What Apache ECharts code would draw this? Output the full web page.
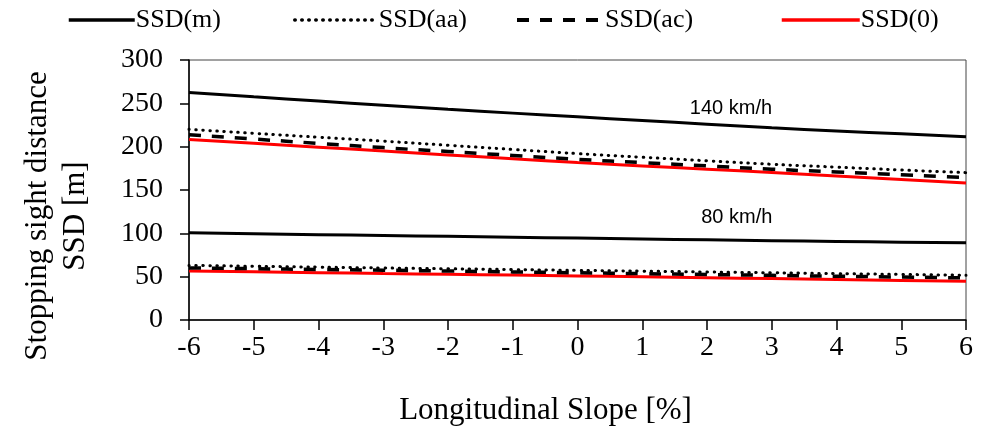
<!DOCTYPE html>
<html>
<head>
<meta charset="utf-8">
<script src="https://cdn.jsdelivr.net/npm/echarts@6/dist/echarts.min.js"></script>
<style>
  html, body { margin: 0; padding: 0; background: #fff; }
  #chart { width: 994px; height: 431px; }
</style>
</head>
<body>
<div id="chart"></div>
<script>
// longitudinal slope [%]
var slopes = [-6, -5, -4, -3, -2, -1, 0, 1, 2, 3, 4, 5, 6];

// 140 km/h
var ssdM140  = [262.6, 257.5, 252.6, 247.7, 243.1, 238.7, 234.4, 230.1, 226.0, 221.8, 218.2, 214.8, 211.5];
var ssdAa140 = [220.0, 215.4, 210.9, 206.4, 201.6, 196.8, 192.0, 187.8, 183.7, 179.7, 176.4, 173.1, 170.0];
var ssdAc140 = [213.8, 208.8, 203.8, 198.9, 194.4, 189.9, 185.4, 181.6, 177.8, 174.0, 170.8, 167.6, 164.4];
var ssd0140  = [208.4, 203.9, 199.4, 195.0, 190.5, 186.0, 181.6, 177.8, 174.0, 170.2, 166.2, 162.1, 158.0];

// 80 km/h
var ssdM80  = [100.6, 99.6, 98.5, 97.5, 96.5, 95.5, 94.5, 93.5, 92.5, 91.5, 90.7, 89.8, 89.0];
var ssdAa80 = [63.0, 62.0, 61.0, 60.0, 59.1, 58.2, 57.3, 56.4, 55.4, 54.5, 53.5, 52.6, 51.6];
var ssdAc80 = [60.0, 59.2, 58.3, 57.5, 56.5, 55.5, 54.5, 53.5, 52.5, 51.5, 50.5, 49.6, 48.6];
var ssd080  = [56.6, 55.6, 54.6, 53.6, 52.7, 51.8, 50.9, 49.9, 48.8, 47.8, 46.8, 45.7, 44.7];

var speedLabels = [
  { text: '140 km/h', x: 2.37, y: 244 },
  { text: '80 km/h', x: 2.46, y: 118 }
];

var serif = 'Liberation Serif';
var sans = 'Liberation Sans';

function pairs(ys) {
  return slopes.map(function (x, i) { return [x, ys[i]]; });
}

var styles = {
  'SSD(m)':  { color: '#000', width: 3, type: 'solid' },
  'SSD(aa)': { color: '#000', width: 3, type: [0.5, 6.5], cap: 'round' },
  'SSD(ac)': { color: '#000', width: 3.5, type: [12, 11] },
  'SSD(0)':  { color: '#ff0000', width: 3, type: 'solid' }
};

function line(name, ys, extra) {
  var st = styles[name];
  var s = {
    name: name,
    type: 'line',
    data: pairs(ys),
    symbol: 'none',
    smooth: true,
    color: st.color,
    lineStyle: { color: st.color, width: st.width, type: st.type, cap: st.cap || 'butt' },
    z: extra && extra.z || 2
  };
  if (extra && extra.markPoint) s.markPoint = extra.markPoint;
  return s;
}

function speedMark(lbl) {
  return {
    symbol: 'circle',
    symbolSize: 0,
    silent: true,
    label: {
      show: true,
      position: 'inside',
      formatter: lbl.text,
      color: '#000',
      fontFamily: sans,
      fontSize: 20
    },
    data: [{ coord: [lbl.x, lbl.y] }]
  };
}

function legendAt(name, left, w) {
  var st = styles[name];
  return {
    data: [name],
    left: left,
    top: 2,
    itemWidth: w,
    itemHeight: 20,
    itemGap: 0,
    itemStyle: { opacity: 0 },
    lineStyle: { width: st.width + 0.5, type: st.type, cap: st.cap || 'butt' },
    textStyle: { fontFamily: serif, fontSize: 26, color: '#000', padding: [0, 0, 0, -4] },
    selectedMode: false
  };
}

var chart = echarts.init(document.getElementById('chart'));

chart.setOption({
  animation: false,
  backgroundColor: '#fff',
  legend: [
    legendAt('SSD(m)', 62, 66),
    legendAt('SSD(aa)', 288, 83),
    legendAt('SSD(ac)', 510, 87),
    legendAt('SSD(0)', 775, 78)
  ],
  grid: {
    left: 189, right: 28, top: 60, bottom: 109,
    show: true, borderColor: '#444', borderWidth: 1
  },
  xAxis: {
    type: 'value',
    min: -6, max: 6, interval: 1,
    name: 'Longitudinal Slope [%]',
    nameLocation: 'middle',
    nameGap: 75,
    nameTextStyle: { fontFamily: serif, fontSize: 31, color: '#000', padding: [0, 64, 0, 0] },
    axisLine: { show: true, onZero: false, lineStyle: { color: '#000', width: 1.5 } },
    axisTick: { show: true, inside: false, length: 10, lineStyle: { color: '#000', width: 1.5 } },
    axisLabel: { fontFamily: serif, fontSize: 28, color: '#000', margin: 14 },
    splitLine: { show: false }
  },
  yAxis: {
    type: 'value',
    min: 0, max: 300, interval: 50,
    name: 'Stopping sight distance\nSSD [m]',
    nameLocation: 'middle',
    nameRotate: 90,
    nameGap: 94,
    nameTextStyle: { fontFamily: serif, fontSize: 31, color: '#000', lineHeight: 38, padding: [0, 52, 0, 0] },
    axisLine: { show: true, onZero: false, lineStyle: { color: '#000', width: 1.5 } },
    axisTick: { show: true, inside: false, length: 9, lineStyle: { color: '#000', width: 1.5 } },
    axisLabel: { fontFamily: serif, fontSize: 28, color: '#000', margin: 26 },
    splitLine: { show: false }
  },
  series: [
    line('SSD(m)', ssdM140, { z: 4, markPoint: speedMark(speedLabels[0]) }),
    line('SSD(0)', ssd0140, { z: 3 }),
    line('SSD(ac)', ssdAc140, { z: 4 }),
    line('SSD(aa)', ssdAa140, { z: 5 }),
    line('SSD(m)', ssdM80, { z: 4, markPoint: speedMark(speedLabels[1]) }),
    line('SSD(0)', ssd080, { z: 3 }),
    line('SSD(ac)', ssdAc80, { z: 4 }),
    line('SSD(aa)', ssdAa80, { z: 5 })
  ]
});
</script>
</body>
</html>
